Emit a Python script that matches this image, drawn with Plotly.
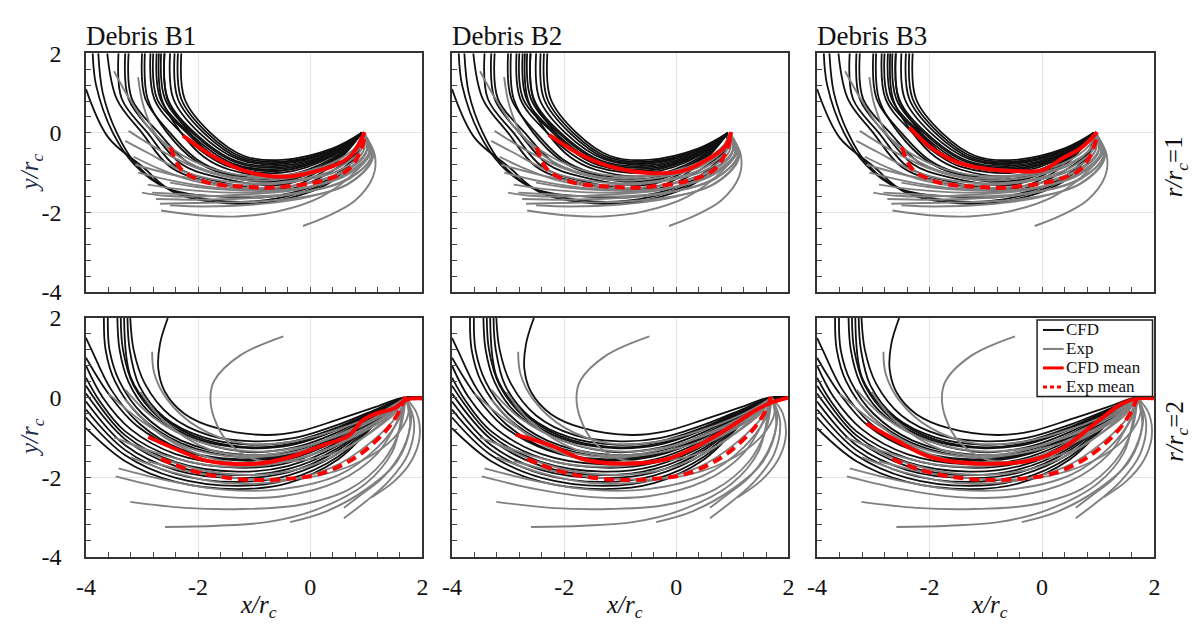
import plotly.graph_objects as go

# ---------------------------------------------------------------------------
# Debris trajectories, coordinates in x/rc and y/rc
# ---------------------------------------------------------------------------
PANEL_TITLES = ["Debris B1", "Debris B2", "Debris B3"]
ROW_LABELS = ["<i>r/r<sub>c</sub></i>=1", "<i>r/r<sub>c</sub></i>=2"]
LEGEND_NAMES = ["CFD", "Exp", "CFD mean", "Exp mean"]
TICK_VALS = [-4, -2, 0, 2]
TICK_TEXT = ["-4", "-2", "0", "2"]

# r/rc = 1 : CFD trajectories
TOP_CFD = [
    [(0.92, 0.0), (0.4, -0.39), (-0.5, -0.68), (-1.18, -0.58), (-1.78, 0.0), (-2.24, 0.85), (-2.3, 2.0)],
    [(0.92, 0.0), (0.4, -0.42), (-0.5, -0.72), (-1.22, -0.61), (-1.84, 0.0), (-2.3, 0.85), (-2.36, 2.0)],
    [(0.92, 0.0), (0.4, -0.44), (-0.5, -0.75), (-1.25, -0.64), (-1.9, 0.0), (-2.36, 0.85), (-2.42, 2.0)],
    [(0.92, 0.0), (0.4, -0.45), (-0.5, -0.78), (-1.29, -0.66), (-1.98, 0.0), (-2.44, 0.85), (-2.5, 2.0)],
    [(0.92, 0.0), (0.4, -0.48), (-0.5, -0.82), (-1.33, -0.7), (-2.06, 0.0), (-2.54, 0.85), (-2.6, 2.0)],
    [(0.92, 0.0), (0.4, -0.5), (-0.5, -0.86), (-1.35, -0.73), (-2.1, 0.0), (-2.59, 0.85), (-2.66, 2.0)],
    [(0.92, 0.0), (0.4, -0.52), (-0.5, -0.9), (-1.38, -0.77), (-2.16, 0.0), (-2.67, 0.85), (-2.74, 2.0)],
    [(0.92, 0.0), (0.4, -0.55), (-0.5, -0.94), (-1.4, -0.8), (-1.85, -0.45), (-2.2, 0.0), (-2.73, 0.85), (-2.8, 2.0)],
    [(0.92, 0.0), (0.4, -0.58), (-0.5, -1.0), (-1.45, -0.85), (-1.85, -0.55), (-2.3, 0.0), (-2.78, 0.85), (-2.85, 2.0)],
    [(0.92, 0.0), (0.4, -0.55), (-0.5, -0.95), (-1.38, -0.81), (-1.8, -0.5), (-2.15, 0.0), (-2.55, 0.85), (-2.6, 2.0)],
    [(0.92, 0.0), (0.4, -0.63), (-0.5, -1.08), (-1.45, -0.92), (-1.9, -0.6), (-2.3, 0.0), (-2.65, 0.85), (-2.7, 2.0)],
    [(0.92, 0.0), (0.4, -0.67), (-0.5, -1.15), (-1.55, -0.98), (-2.0, -0.69), (-2.5, 0.0), (-2.94, 0.85), (-3.0, 2.0)],
    [(0.92, 0.0), (0.4, -0.71), (-0.5, -1.22), (-1.65, -1.04), (-2.2, -0.73), (-2.7, 0.0), (-3.18, 0.85), (-3.24, 2.0)],
    [(0.92, 0.0), (0.4, -0.75), (-0.5, -1.3), (-1.7, -1.1), (-2.3, -0.78), (-2.8, 0.0), (-3.24, 0.85), (-3.3, 2.0)],
    [(0.92, 0.0), (0.4, -0.81), (-0.5, -1.4), (-1.75, -1.19), (-2.4, -0.84), (-2.9, 0.0), (-3.36, 0.85), (-3.42, 2.0)],
    [(0.92, 0.0), (0.85, -0.42), (0.4, -0.95), (-0.5, -1.45), (-1.8, -1.23), (-2.5, -0.85), (-3.0, 0.0), (-3.45, 0.85), (-3.62, 2.0)],
    [(0.92, 0.0), (0.85, -0.45), (0.4, -1.1), (-0.6, -1.58), (-1.6, -1.6), (-2.54, -1.4), (-3.12, -0.82), (-3.52, 0.0), (-3.82, 1.2), (-3.88, 2.0)],
    [(0.92, 0.0), (0.85, -0.48), (0.4, -1.2), (-0.5, -1.68), (-1.3, -1.78), (-2.42, -1.5), (-3.0, -0.84), (-3.6, -0.12), (-4.0, 1.1)],
    [(0.92, 0.0), (0.85, -0.46), (0.4, -1.15), (-0.5, -1.62), (-1.5, -1.72), (-2.5, -1.42), (-3.1, -0.8), (-3.45, 0.0), (-3.7, 1.0), (-3.78, 2.0)],
    [(0.92, 0.0), (0.4, -0.7), (-0.5, -1.2), (-1.55, -1.02), (-2.05, -0.7), (-2.55, 0.0), (-2.9, 0.85), (-2.95, 2.0)],
]

# r/rc = 1 : experimental trajectories
TOP_EXP = [
    [(0.95, 0.0), (0.88, -0.35), (0.5, -0.8), (-0.3, -1.12), (-1.2, -1.18), (-2.0, -0.9), (-2.7, -0.42), (-3.24, 0.05)],
    [(0.95, 0.0), (0.95, -0.45), (0.5, -0.95), (-0.4, -1.25), (-1.4, -1.3), (-2.3, -1.1), (-3.12, -0.8)],
    [(0.95, 0.0), (1.0, -0.5), (0.5, -1.05), (-0.4, -1.35), (-1.5, -1.4), (-2.4, -1.22), (-3.07, -1.0)],
    [(0.95, 0.0), (1.05, -0.55), (0.6, -1.1), (-0.3, -1.42), (-1.4, -1.5), (-2.3, -1.42), (-2.9, -1.3)],
    [(0.95, 0.0), (1.1, -0.6), (0.6, -1.2), (-0.3, -1.52), (-1.4, -1.6), (-2.2, -1.55), (-2.82, -1.5)],
    [(0.95, 0.0), (1.1, -0.65), (0.65, -1.3), (-0.3, -1.65), (-1.3, -1.74), (-2.1, -1.76), (-2.68, -1.78)],
    [(0.95, 0.0), (1.05, -0.5), (0.8, -0.98), (0.2, -1.6), (-0.6, -1.98), (-1.3, -2.1), (-2.0, -2.07), (-2.66, -1.95)],
    [(0.95, 0.0), (1.15, -0.55), (1.12, -1.1), (0.8, -1.7), (0.3, -2.1), (-0.13, -2.34)],
    [(0.95, 0.0), (0.85, -0.3), (0.4, -0.75), (-0.4, -1.05), (-1.3, -1.05), (-2.1, -0.7), (-2.8, 0.0), (-3.2, 0.8), (-3.5, 1.55)],
    [(0.95, 0.0), (0.9, -0.35), (0.4, -0.82), (-0.5, -1.1), (-1.4, -1.1), (-2.2, -0.72), (-2.75, -0.05), (-2.98, 0.7), (-3.07, 1.4)],
    [(0.95, 0.0), (1.0, -0.45), (0.6, -0.95), (-0.2, -1.3), (-1.2, -1.38), (-2.1, -1.2), (-2.7, -0.9), (-3.15, -0.6)],
    [(0.95, 0.0), (1.05, -0.5), (0.6, -1.05), (-0.2, -1.42), (-1.2, -1.55), (-2.0, -1.6), (-2.6, -1.58), (-3.0, -1.5)],
    [(0.95, 0.0), (1.1, -0.55), (0.7, -1.15), (-0.2, -1.52), (-1.2, -1.65), (-2.0, -1.68), (-2.75, -1.66)],
    [(0.95, 0.0), (1.12, -0.6), (0.75, -1.22), (0.0, -1.6), (-1.0, -1.8), (-1.9, -1.85), (-2.5, -1.82)],
    [(0.95, 0.0), (0.92, -0.4), (0.5, -0.88), (-0.3, -1.2), (-1.3, -1.25), (-2.2, -1.0), (-2.9, -0.5), (-3.3, -0.2)],
    [(0.95, 0.0), (1.08, -0.5), (0.7, -1.0), (0.0, -1.35), (-1.0, -1.45), (-1.9, -1.38), (-2.5, -1.25)],
]

TOP_EXP_MEAN = [(-2.49, -0.36), (-2.3, -0.92), (-1.83, -1.25), (-1.2, -1.35), (-0.66, -1.37),
                (0.22, -1.2), (0.68, -0.92), (0.9, -0.44), (0.98, 0.0)]
TOP_CFD_MEAN = [
    [(-2.27, -0.07), (-1.66, -0.65), (-1.06, -1.0), (-0.48, -1.1), (0.0, -1.0), (0.51, -0.77), (0.75, -0.53), (0.97, 0.02)],
    [(-2.27, -0.05), (-1.66, -0.58), (-1.06, -0.89), (-0.48, -1.01), (0.1, -0.96), (0.58, -0.65), (0.88, -0.33), (0.98, 0.02)],
    [(-2.36, 0.14), (-1.94, -0.41), (-1.54, -0.72), (-1.06, -0.89), (-0.48, -0.96), (0.0, -0.94), (0.35, -0.65), (0.7, -0.37), (0.98, 0.02)],
]

# r/rc = 2 : CFD trajectories
BOT_CFD = [
    [(2.0, 0.0), (1.65, 0.0), (1.2, -0.22), (0.5, -0.55), (-0.2, -0.85), (-0.8, -0.94), (-1.66, -0.77), (-2.24, -0.41), (-2.59, 0.14), (-2.71, 0.72), (-2.68, 1.35), (-2.54, 2.0)],
    [(2.0, 0.0), (1.65, -0.02), (1.2, -0.28), (0.5, -0.68), (-0.3, -1.02), (-1.0, -1.1), (-1.8, -0.95), (-2.5, -0.45), (-2.95, 0.35), (-3.15, 1.2), (-3.21, 2.0)],
    [(2.0, 0.0), (1.65, -0.02), (1.2, -0.3), (0.5, -0.74), (-0.3, -1.1), (-1.1, -1.18), (-1.9, -1.0), (-2.6, -0.5), (-3.05, 0.3), (-3.22, 1.2), (-3.26, 2.0)],
    [(2.0, 0.0), (1.65, -0.03), (1.2, -0.32), (0.5, -0.8), (-0.3, -1.18), (-1.1, -1.27), (-2.0, -1.05), (-2.7, -0.5), (-3.15, 0.3), (-3.34, 1.2), (-3.38, 2.0)],
    [(2.0, 0.0), (1.65, -0.03), (1.2, -0.34), (0.5, -0.86), (-0.3, -1.26), (-1.2, -1.36), (-2.24, -0.96), (-2.89, -0.34), (-3.24, 0.39), (-3.4, 1.2), (-3.44, 2.0)],
    [(2.0, 0.0), (1.65, -0.03), (1.2, -0.36), (0.5, -0.92), (-0.3, -1.34), (-1.2, -1.44), (-2.3, -1.08), (-3.0, -0.4), (-3.4, 0.4), (-3.58, 1.2), (-3.61, 2.0)],
    [(2.0, 0.0), (1.65, -0.04), (1.2, -0.38), (0.5, -0.96), (-0.3, -1.4), (-1.2, -1.5), (-2.3, -1.15), (-3.05, -0.45), (-3.48, 0.4), (-3.65, 1.2), (-3.68, 2.0)],
    [(2.0, 0.0), (1.65, -0.04), (1.2, -0.4), (0.5, -1.0), (-0.4, -1.48), (-1.3, -1.58), (-2.3, -1.32), (-3.1, -0.7), (-3.6, 0.1), (-4.0, 1.0)],
    [(2.0, 0.0), (1.65, -0.04), (1.2, -0.42), (0.5, -1.06), (-0.4, -1.56), (-1.3, -1.68), (-2.4, -1.42), (-3.2, -0.8), (-3.7, 0.0), (-4.0, 0.8)],
    [(2.0, 0.0), (1.65, -0.05), (1.2, -0.45), (0.5, -1.12), (-0.4, -1.64), (-1.3, -1.76), (-2.4, -1.52), (-3.3, -0.85), (-3.75, -0.1), (-4.0, 0.5)],
    [(2.0, 0.0), (1.65, -0.05), (1.2, -0.48), (0.5, -1.2), (-0.4, -1.72), (-1.3, -1.86), (-2.4, -1.62), (-3.3, -0.95), (-4.0, 0.3)],
    [(2.0, 0.0), (1.65, -0.05), (1.2, -0.5), (0.5, -1.26), (-0.4, -1.8), (-1.3, -1.95), (-2.4, -1.72), (-3.3, -1.05), (-4.0, 0.1)],
    [(2.0, 0.0), (1.65, -0.06), (1.2, -0.52), (0.5, -1.32), (-0.4, -1.88), (-1.3, -2.02), (-2.4, -1.82), (-3.3, -1.2), (-4.0, -0.1)],
    [(2.0, 0.0), (1.65, -0.06), (1.2, -0.55), (0.5, -1.4), (-0.4, -1.96), (-1.3, -2.12), (-2.4, -1.92), (-3.3, -1.32), (-4.0, -0.3)],
    [(2.0, 0.0), (1.65, -0.06), (1.2, -0.58), (0.5, -1.48), (-0.4, -2.06), (-1.3, -2.22), (-2.4, -2.02), (-3.3, -1.45), (-4.0, -0.5)],
    [(2.0, 0.0), (1.65, -0.07), (1.2, -0.6), (0.5, -1.55), (-0.4, -2.15), (-1.3, -2.3), (-2.4, -2.12), (-3.3, -1.6), (-4.0, -0.77)],
    [(2.0, 0.0), (1.65, -0.03), (1.2, -0.3), (0.5, -0.78), (-0.3, -1.15), (-1.2, -1.24), (-2.1, -0.95), (-2.8, -0.3), (-3.2, 0.5), (-3.32, 2.0)],
    [(2.0, 0.0), (1.65, -0.04), (1.2, -0.4), (0.5, -0.98), (-0.4, -1.45), (-1.3, -1.55), (-2.3, -1.3), (-3.05, -0.65), (-3.55, 0.2), (-3.9, 1.2), (-4.0, 1.5)],
]

# r/rc = 2 : experimental trajectories
BOT_EXP = [
    [(1.7, 0.0), (1.85, -0.6), (1.75, -1.4), (1.4, -2.1), (1.0, -2.6), (0.6, -3.03)],
    [(1.7, 0.0), (1.8, -0.5), (1.65, -1.3), (1.3, -2.0), (0.9, -2.45), (0.6, -2.77)],
    [(1.7, 0.0), (1.78, -0.7), (1.55, -1.6), (1.0, -2.3), (0.3, -2.85), (-0.36, -3.13)],
    [(1.7, 0.0), (1.64, -0.41), (1.46, -1.37), (0.98, -2.17), (0.1, -2.82), (-0.78, -3.13), (-1.66, -3.22), (-2.59, -3.25)],
    [(1.7, 0.0), (1.6, -0.8), (1.3, -1.6), (0.7, -2.3), (-0.2, -2.7), (-1.2, -2.8), (-2.24, -2.77), (-3.21, -2.62)],
    [(1.7, 0.0), (1.55, -0.6), (1.2, -1.4), (0.5, -2.1), (-0.5, -2.48), (-1.5, -2.5), (-2.5, -2.3), (-3.47, -1.98)],
    [(1.7, 0.0), (1.6, -0.5), (1.2, -1.25), (0.5, -1.95), (-0.5, -2.3), (-1.5, -2.32), (-2.5, -2.1), (-3.42, -1.78)],
    [(1.7, 0.0), (1.55, -0.45), (1.1, -1.1), (0.4, -1.75), (-0.5, -2.1), (-1.5, -2.15), (-2.4, -1.9), (-3.2, -1.5)],
    [(1.7, 0.0), (1.5, -0.4), (1.0, -0.95), (0.3, -1.55), (-0.6, -1.9), (-1.6, -1.9), (-2.5, -1.6), (-3.3, -1.1)],
    [(1.7, 0.0), (1.45, -0.35), (0.9, -0.85), (0.2, -1.35), (-0.7, -1.65), (-1.7, -1.55), (-2.6, -1.0), (-3.3, -0.05)],
    [(1.7, 0.0), (1.4, -0.3), (0.8, -0.75), (0.0, -1.2), (-0.9, -1.45), (-1.8, -1.3), (-2.6, -0.6), (-3.03, 0.14)],
    [(1.7, 0.0), (1.3, -0.6), (0.6, -1.3), (-0.3, -1.6), (-1.0, -1.55), (-1.48, -1.1), (-1.71, -0.53), (-1.78, 0.02), (-1.71, 0.43), (-1.25, 1.06), (-0.48, 1.54)],
    [(1.7, 0.0), (1.45, -0.4), (0.9, -0.9), (0.1, -1.4), (-0.8, -1.7), (-1.8, -1.7), (-2.6, -1.45), (-3.5, -1.0)],
    [(1.7, 0.0), (1.35, -0.3), (0.6, -0.75), (-0.3, -1.1), (-1.2, -1.15), (-2.0, -0.75), (-2.55, -0.05), (-2.78, 0.6), (-2.82, 1.15)],
    [(1.7, 0.0), (1.4, -0.35), (0.7, -0.85), (-0.2, -1.25), (-1.1, -1.35), (-2.0, -1.1), (-2.8, -0.5), (-3.3, 0.2)],
    [(1.7, 0.0), (1.75, -0.4), (1.5, -1.0), (0.9, -1.6), (0.0, -2.0), (-1.0, -2.05), (-2.0, -1.9), (-2.9, -1.6)],
    [(1.7, 0.0), (1.4, -0.4), (0.7, -0.95), (-0.2, -1.35), (-1.2, -1.5), (-2.2, -1.25), (-3.0, -0.6), (-3.6, 0.1)],
    [(1.7, 0.0), (1.9, -0.4), (1.95, -1.0), (1.8, -1.6), (1.5, -2.1), (1.1, -2.5)],
]

BOT_EXP_MEAN = [(-2.66, -1.54), (-2.2, -1.8), (-1.66, -1.98), (-0.95, -2.07), (-0.3, -2.03), (0.22, -1.9),
                (0.81, -1.5), (1.28, -0.94), (1.51, -0.53), (1.63, -0.22), (1.69, 0.02)]
BOT_CFD_MEAN = [
    [(-2.89, -0.99), (-2.3, -1.35), (-1.83, -1.59), (-0.95, -1.66), (-0.37, -1.5), (0.22, -1.2), (0.68, -0.96),
     (0.93, -0.58), (1.16, -0.41), (1.51, -0.26), (1.72, -0.05), (2.0, -0.02)],
    [(-2.86, -0.93), (-2.24, -1.2), (-1.66, -1.55), (-0.95, -1.66), (-0.18, -1.55), (0.4, -1.2), (0.98, -0.72),
     (1.4, -0.33), (1.69, -0.13), (2.0, 0.0)],
    [(-3.12, -0.65), (-2.56, -1.1), (-1.97, -1.5), (-1.09, -1.66), (-0.21, -1.58), (0.38, -1.26), (0.96, -0.63),
     (1.44, -0.14), (1.72, -0.02), (1.99, -0.02)],
]

# ---------------------------------------------------------------------------
# Layout geometry (pixels of a 1197 x 635 canvas)
# ---------------------------------------------------------------------------
W, H = 1197, 635
COL_PX = [(77, 418), (448, 789), (818, 1160)]
ROW_PX = [(42, 291), (318, 567)]
FONT = "Liberation Serif"

BLACK = "#111111"
GRAY = "#808080"
RED = "#ff0000"
RED_DASH = "10px,6px"


def px_x(p):
    return p / W


def px_y(p):
    return 1 - p / H


fig = go.Figure()

rows_data = [
    (TOP_CFD, TOP_EXP, TOP_CFD_MEAN, TOP_EXP_MEAN),
    (BOT_CFD, BOT_EXP, BOT_CFD_MEAN, BOT_EXP_MEAN),
]

for r in range(2):
    cfd, exp, cfd_means, exp_mean = rows_data[r]
    for c in range(3):
        k = r * 3 + c
        xa = "x" if k == 0 else f"x{k + 1}"
        ya = "y" if k == 0 else f"y{k + 1}"

        for curve in cfd:
            fig.add_trace(go.Scatter(
                x=[p[0] for p in curve], y=[p[1] for p in curve], xaxis=xa, yaxis=ya,
                mode="lines", line=dict(color=BLACK, width=1.8, shape="spline", smoothing=1.0),
                name="CFD", showlegend=False, hoverinfo="skip"))
        for curve in exp:
            fig.add_trace(go.Scatter(
                x=[p[0] for p in curve], y=[p[1] for p in curve], xaxis=xa, yaxis=ya,
                mode="lines", line=dict(color=GRAY, width=1.9, shape="spline", smoothing=1.0),
                name="Exp", showlegend=False, hoverinfo="skip"))
        m = cfd_means[c]
        fig.add_trace(go.Scatter(
            x=[p[0] for p in m], y=[p[1] for p in m], xaxis=xa, yaxis=ya,
            mode="lines", line=dict(color=RED, width=4, shape="spline", smoothing=1.0),
            name="CFD mean", showlegend=False, hoverinfo="skip"))
        fig.add_trace(go.Scatter(
            x=[p[0] for p in exp_mean], y=[p[1] for p in exp_mean], xaxis=xa, yaxis=ya,
            mode="lines", line=dict(color=RED, width=4, dash=RED_DASH, shape="spline", smoothing=1.0),
            name="Exp mean", showlegend=False, hoverinfo="skip"))

        common = dict(
            range=[-4, 2], tickmode="array", tickvals=TICK_VALS, ticktext=TICK_TEXT,
            ticks="inside", ticklen=5, tickwidth=1, tickcolor="#444",
            showgrid=True, gridcolor="#e4e4e4", gridwidth=1, zeroline=False,
            showline=True, linecolor="#333", linewidth=1.5, mirror=True,
            minor=dict(tick0=-4, dtick=0.4, ticks="inside", ticklen=5, tickcolor="#444", showgrid=False),
            tickfont=dict(family=FONT, size=24, color="#111"),
        )
        xl, xr = COL_PX[c]
        yt, yb = ROW_PX[r]
        fig.update_layout({
            ("xaxis" if k == 0 else f"xaxis{k + 1}"): dict(
                common, domain=[px_x(xl), px_x(xr)], anchor=ya,
                showticklabels=(r == 1), ticklabelstandoff=8),
            ("yaxis" if k == 0 else f"yaxis{k + 1}"): dict(
                common, domain=[px_y(yb), px_y(yt)], anchor=xa,
                showticklabels=(c == 0), ticklabelstandoff=18),
        })

annotations = []
for c, title in enumerate(PANEL_TITLES):
    annotations.append(dict(
        text=title, x=px_x(COL_PX[c][0] - 2), y=px_y(24), xref="paper", yref="paper",
        xanchor="left", yanchor="middle", showarrow=False,
        font=dict(family=FONT, size=27, color="#111")))
    annotations.append(dict(
        text="<i>x/r<sub>c</sub></i>", x=px_x((COL_PX[c][0] + COL_PX[c][1]) / 2 + 4), y=px_y(619),
        xref="paper", yref="paper", xanchor="center", yanchor="middle", showarrow=False,
        font=dict(family=FONT, size=25, color="#111")))
for r in range(2):
    yc = (ROW_PX[r][0] + ROW_PX[r][1]) / 2
    annotations.append(dict(
        text="<i>y/r<sub>c</sub></i>", x=px_x(22), y=px_y(yc), xref="paper", yref="paper",
        xanchor="center", yanchor="middle", textangle=-90, showarrow=False,
        font=dict(family=FONT, size=25, color="#1f2d4d")))
    annotations.append(dict(
        text=ROW_LABELS[r], x=px_x(1182), y=px_y(yc - 6), xref="paper", yref="paper",
        xanchor="center", yanchor="middle", textangle=-90, showarrow=False,
        font=dict(family=FONT, size=25, color="#111")))

# Legend box drawn inside the lower-right panel
LEG_BOX = (1041, 320, 1158, 400)
LEG_ROWS = [330.5, 350.3, 370.1, 389.9]
LEG_STYLES = [(BLACK, 2, "solid"), (GRAY, 2, "solid"), (RED, 3, "solid"), (RED, 3, "4px,3px")]
shapes = [dict(type="rect", xref="paper", yref="paper", layer="above",
               x0=px_x(LEG_BOX[0]), x1=px_x(LEG_BOX[2]), y0=px_y(LEG_BOX[3]), y1=px_y(LEG_BOX[1]),
               fillcolor="white", line=dict(color="#222", width=1.5))]
for name, yrow, (col, wid, dash) in zip(LEGEND_NAMES, LEG_ROWS, LEG_STYLES):
    shapes.append(dict(type="line", xref="paper", yref="paper", layer="above",
                       x0=px_x(1047), x1=px_x(1068), y0=px_y(yrow), y1=px_y(yrow),
                       line=dict(color=col, width=wid, dash=dash)))
    annotations.append(dict(
        text=name, x=px_x(1069), y=px_y(yrow), xref="paper", yref="paper",
        xanchor="left", yanchor="middle", showarrow=False, borderpad=0,
        font=dict(family=FONT, size=17, color="#111")))

fig.update_layout(
    width=W, height=H,
    margin=dict(l=0, r=0, t=0, b=0),
    paper_bgcolor="white", plot_bgcolor="white",
    annotations=annotations, shapes=shapes,
    showlegend=False,
)

fig.write_html("out.html")
